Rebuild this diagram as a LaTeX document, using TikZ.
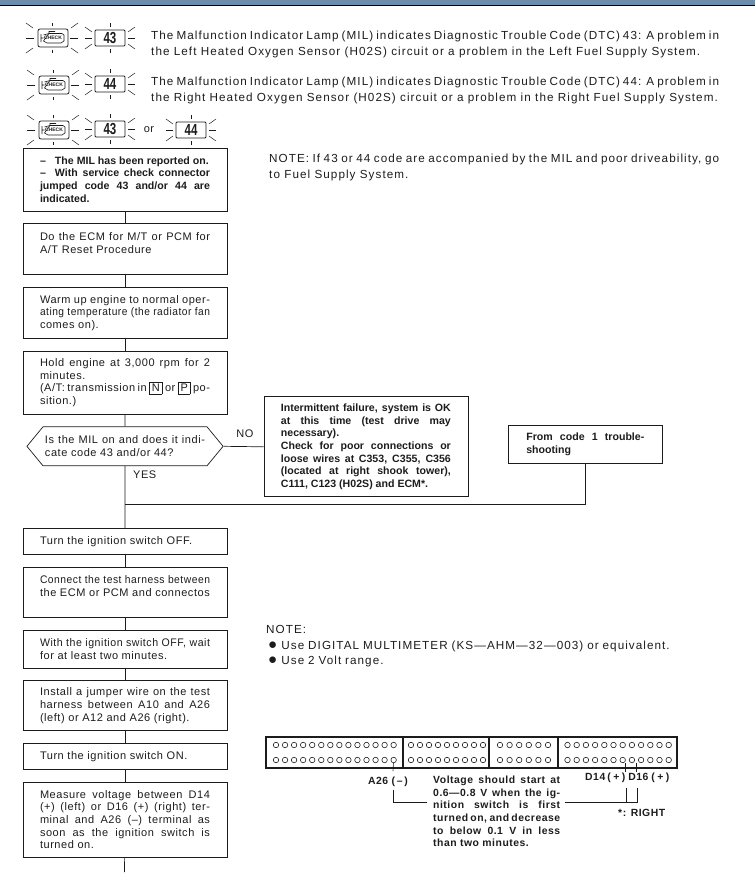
\documentclass[tikz,border=0pt]{standalone}
\usepackage{fontspec}
\setmainfont{Liberation Sans}
\newfontfamily\wideface[LetterSpace=9]{Liberation Sans}
\newfontfamily\boxface[LetterSpace=5]{Liberation Sans}
\usetikzlibrary{arrows.meta,positioning,shapes.symbols}
\definecolor{barblue}{HTML}{6C8CAB}
\definecolor{inkgray}{HTML}{1C1C1C}
\newcommand{\selbox}[1]{\raisebox{0pt}[0pt][0pt]{\setlength{\fboxsep}{2pt}\setlength{\fboxrule}{.6pt}\fbox{#1}}}
\newcommand{\fitline}[1]{\resizebox{170pt}{\height}{#1}}

\begin{document}
\begin{tikzpicture}[
  x=1pt, y=-1pt,
  node distance=12pt,
  every node/.style={font=\boxface\fontsize{11}{12.7}\selectfont, text=inkgray},
  etapa/.style={rectangle, draw=inkgray, line width=.7pt, inner xsep=17pt, inner ysep=0pt, text width=170pt, align=justify, minimum height=#1},
  etapa/.default=26pt,
  aviso/.style={etapa=#1, font=\normalfont\fontsize{10.6}{12.7}\selectfont\bfseries},
  decisao/.style={signal, signal to=west and east, signal pointer angle=101, draw=inkgray, line width=.7pt, inner xsep=2pt, inner ysep=0pt, minimum height=39pt, text width=160pt, align=justify},
  nota/.style={anchor=west, inner sep=0pt, align=justify, font=\wideface\fontsize{11.7}{16}\selectfont},
  rotulo/.style={anchor=west, inner sep=0pt, align=left, font=\boxface\fontsize{10.4}{12.7}\selectfont\bfseries},
  seta/.style={draw=inkgray, line width=.7pt},
  raio/.style={draw=inkgray, line width=.5pt},
  pino/.style={circle, draw=inkgray, line width=.6pt, inner sep=0pt, minimum size=5.5pt},
  enginelamp/.pic={
    \foreach \rx/\ry/\sx/\sy in {18/0/26/0, -18/0/-26/0, 0/12/0/15, 0/-12/0/-15, 19/10/26/15, -19/10/-26/15, 19/-10/26/-15, -19/-10/-26/-15}
      \draw[raio] (\rx,\ry) -- (\sx,\sy);
    \node[draw=inkgray, line width=.8pt, rounded corners=2pt, minimum width=30pt, minimum height=18pt, inner sep=0pt, font=\normalfont\fontsize{5}{5}\selectfont\bfseries] (-icon) at (1,0) {CHECK};
    \draw[inkgray, line width=.6pt] (-11,-4) -- (-11,4) (-11,0) -- (-8.5,0) (-8.5,-3) -- (-3,-4.5) -- (-3,-6.5) -- (3,-6.5) (-3,-4.5) -- (10,-4.5) -- (12,-3) -- (12,3) -- (9,5) -- (-5,5) -- (-8.5,3) -- cycle;
  },
  codelamp/.pic={
    \foreach \rx/\ry/\sx/\sy in {18/0/25/0, -18/0/-25/0, 0/11/0/15, 0/-11/0/-15, 18/6/25/11, -18/6/-25/11, 18/-6/25/-11, -18/-6/-25/-11}
      \draw[raio] (\rx,\ry) -- (\sx,\sy);
    \node[draw=inkgray, line width=.9pt, rounded corners=1pt, minimum width=30pt, minimum height=16pt, inner sep=0pt, font=\normalfont\fontsize{16}{16}\selectfont\bfseries] (-box) at (0,0) {\scalebox{.72}[1]{#1}};
  }
]
  % header bar and page limits
  \useasboundingbox (0,0) rectangle (755,884);
  \fill[barblue] (0,0) rectangle (755,5);
  \draw[black, line width=.9pt] (0,5) -- (755,5);

  % lamps
  \pic (lampa) at (52,38) {enginelamp};
  \pic (codea) at (110,38) {codelamp=43};
  \pic (lampb) at (53,85) {enginelamp};
  \pic (codeb) at (110,84) {codelamp=44};
  \pic (lampc) at (53,130) {enginelamp};
  \pic (codec) at (110,129) {codelamp=43};
  \node[inner sep=0pt] (ou) at (149,130) {or};
  \pic (coded) at (191,130) {codelamp=44};

  \node[nota, text width=568pt] (dtca) at (151,44) {The Malfunction Indicator Lamp (MIL) indicates Diagnostic Trouble Code (DTC) 43: A problem in\linebreak the Left Heated Oxygen Sensor (H02S) circuit or a problem in the Left Fuel Supply System.};
  \node[nota, text width=568pt] (dtcb) at (151,90) {The Malfunction Indicator Lamp (MIL) indicates Diagnostic Trouble Code (DTC) 44: A problem in\linebreak the Right Heated Oxygen Sensor (H02S) circuit or a problem in the Right Fuel Supply System.};
  \node[nota, text width=450pt] (notea) at (269,167.5) {NOTE: If 43 or 44 code are accompanied by the MIL and poor driveability, go\linebreak to Fuel Supply System.};

  % main column
  \node[aviso=63pt] (relato) at (125,179.5) {\hangindent=15pt\hangafter=1\makebox[15pt][l]{--}The MIL has been reported on.\par\hangindent=15pt\hangafter=1\makebox[15pt][l]{--}With service check connector\linebreak jumped code 43 and/or 44 are\linebreak indicated.};
  \node[etapa=51pt, below=of relato] (reset) {Do the ECM for M/T or PCM for\linebreak A/T Reset Procedure\par\mbox{}};
  \node[etapa=51pt, below=of reset] (aquece) {Warm up engine to normal oper-\linebreak \fitline{ating temperature (the radiator fan}\linebreak comes on).};
  \node[etapa=63pt, below=of aquece] (mantem) {Hold engine at 3,000 rpm for 2\linebreak minutes.\par (A/T: transmission in \selbox{N} or \selbox{P} po-\linebreak sition.)};
  \node[decisao, below=of mantem] (milon) {Is the MIL on and does it indi-\linebreak cate code 43 and/or 44?};
  \node[etapa=26pt, below=62pt of milon] (desliga) {Turn the ignition switch OFF.};
  \node[etapa=50pt, below=of desliga] (chicote) {\fitline{Connect the test harness between}\linebreak the ECM or PCM and connectos\par\mbox{}};
  \node[etapa=38pt, below=of chicote] (espera) {\fitline{With the ignition switch OFF, wait}\linebreak for at least two minutes.};
  \node[etapa=50pt, below=of espera] (jumper) {Install a jumper wire on the test\linebreak harness between A10 and A26\linebreak (left) or A12 and A26 (right).};
  \node[etapa=26pt, below=of jumper] (liga) {Turn the ignition switch ON.};
  \node[etapa=75pt, below=of liga] (mede) {Measure voltage between D14\linebreak (+) (left) or D16 (+) (right) ter-\linebreak minal and A26 (–) terminal as\linebreak soon as the ignition switch is\linebreak turned on.};

  % side boxes
  \node[aviso=100pt, right=40pt of milon.east, anchor=west, yshift=-.5pt] (falha) {Intermittent failure, system is OK\linebreak at this time (test drive may\linebreak necessary).\par Check for poor connections or\linebreak loose wires at C353, C355, C356\linebreak (located at right shook tower),\linebreak C111, C123 (H02S) and ECM*.};
  \node[aviso=38pt, text width=118pt, anchor=west, inner xsep=18pt] (codigo) at (508,444) {From code 1 trouble-\linebreak shooting};
  \node[inner sep=0pt] (nao) at (245,434) {NO};
  \node[inner sep=0pt, anchor=west] (sim) at (133,475) {YES};

  \coordinate (junta) at (124.5,504);
  \coordinate (fim) at (124.5,872);

  \draw[seta] (relato) -- (reset);
  \draw[seta] (reset) -- (aquece);
  \draw[seta] (aquece) -- (mantem);
  \draw[seta] (mantem) -- (milon);
  \draw[seta] (milon) -- (desliga);
  \draw[seta] (milon.east) -- (falha.west);
  \draw[seta] (codigo.south) |- (junta);
  \draw[seta] (desliga) -- (chicote);
  \draw[seta] (chicote) -- (espera);
  \draw[seta] (espera) -- (jumper);
  \draw[seta] (jumper) -- (liga);
  \draw[seta] (liga) -- (mede);
  \draw[seta] (mede) -- (fim);

  % second note
  \node[nota, text width=440pt, align=left, font=\wideface\fontsize{11.7}{15.5}\selectfont] (noteb) at (266,646.5) {NOTE:\\\hspace*{2pt}\scalebox{1.3}{●}\hspace*{4pt}Use DIGITAL MULTIMETER (KS—AHM—32—003) or equivalent.\\\hspace*{2pt}\scalebox{1.3}{●}\hspace*{4pt}Use 2 Volt range.};

  % connector
  \draw[draw=inkgray, line width=1.1pt] (266,737) rectangle (677,768);
  \foreach \divx in {403,489,558}
    \draw[draw=inkgray, line width=1.1pt] (\divx,737) -- (\divx,768);
  \foreach \bloco/\inix/\total/\passo in {a/276/14/9.05, b/411/9/9, c/500/6/9.6, d/567.5/12/9.2}
    \foreach \i in {1,...,\total} {
      \node[pino] (\bloco t\i) at ({\inix+(\i-1)*\passo},745) {};
      \node[pino] (\bloco b\i) at ({\inix+(\i-1)*\passo},760) {};
    }
  \node[rotulo, anchor=east] (aneg) at (408,782) {A26 (\,–\,)};
  \node[rotulo, text width=100pt] (dpos) at (585,778) {D14\hspace{2pt}(\hspace{2.5pt}+\hspace{2.5pt})\hspace{3pt}D16\hspace{3pt}(\hspace{2.5pt}+\hspace{2.5pt})};
  \node[rotulo] (direita) at (618,813) {*: RIGHT};
  \node[rotulo, text width=127pt, align=justify] (tensao) at (433,811.5) {Voltage should start at\linebreak 0.6—0.8 V when the ig-\linebreak nition switch is first\linebreak turned on, and decrease\linebreak to below 0.1 V in less\linebreak than two minutes.};

  \coordinate (dquatorze) at (625,763);
  \coordinate (ddezesseis) at (636,763);
  \coordinate (dbaixoa) at (626,788);
  \coordinate (dbaixob) at (637,788);
  \coordinate (abaixo) at (393,790);
  \coordinate (acanto) at (427,802);
  \coordinate (dcanto) at (565,802);
  \draw[seta, line width=.6pt] (ab14) -- (393,771);
  \draw[seta, line width=.6pt] (dquatorze) -- (625,772);
  \draw[seta, line width=.6pt] (ddezesseis) -- (636,772);
  \draw[seta, line width=.6pt] (abaixo) |- (acanto);
  \draw[seta, line width=.6pt] (dcanto) -| (dbaixob);
  \draw[seta, line width=.6pt] (dbaixoa) -- (626,802);
\end{tikzpicture}
\end{document}
